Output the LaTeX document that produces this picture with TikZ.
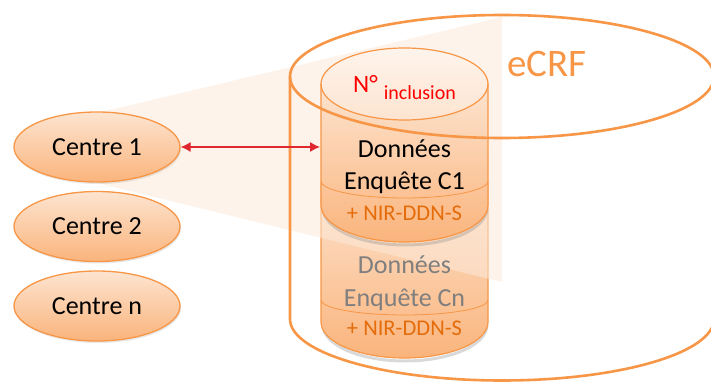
\documentclass[tikz,border=0pt]{standalone}
\usepackage{fontspec}
\setmainfont{Carlito}
\usetikzlibrary{shapes.geometric,arrows.meta,positioning,shadows}

\definecolor{ecrforange}{HTML}{F79646}
\definecolor{nirorange}{HTML}{E46C0A}
\definecolor{peachlight}{HTML}{FDE4D0}
\definecolor{peachdark}{HTML}{FAB47C}
\definecolor{beamcolor}{HTML}{FCE9D9}
\definecolor{linkred}{HTML}{E0262E}
\definecolor{fadedgray}{HTML}{7F7F7F}

\tikzset{
  centre/.style={ellipse, draw=ecrforange, line width=1.3pt, top color=peachlight, bottom color=peachdark,
    minimum width=166pt, minimum height=70pt, inner sep=0pt, font=\fontsize{26}{30}\selectfont,
    drop shadow={opacity=0.18, shadow xshift=1pt, shadow yshift=-2pt}},
  disktext/.style={anchor=base, inner sep=0pt, font=\fontsize{26}{30}\selectfont},
  nirtext/.style={anchor=base, inner sep=0pt, text=nirorange, font=\fontsize{22.5}{26}\selectfont},
  diskline/.style={draw=ecrforange, line width=1.2pt},
}

\begin{document}
\begin{tikzpicture}[x=1pt, y=1pt]
    \useasboundingbox (0,0) rectangle (711,383);
    \clip (0,0) rectangle (711,383);

    % Lower disk: survey data of centre n
    \draw[gray, opacity=0.3, line width=3pt] (323,58) arc[start angle=180, end angle=360, x radius=82, y radius=36];
    \shade[top color=peachlight, bottom color=peachdark] (321,200) -- (321,61)
        arc[start angle=180, end angle=360, x radius=83.5, y radius=36] -- (488,200) -- cycle;
    \draw[diskline] (321,200) -- (321,61) arc[start angle=180, end angle=360, x radius=83.5, y radius=36] -- (488,200);
    \draw[diskline, line width=0.8pt] (321,83) arc[start angle=180, end angle=360, x radius=83.5, y radius=15];

    % Light beam from Centre 1 to the eCRF
    \fill[beamcolor, opacity=0.55] (97,270) -- (502,366) -- (502,101) -- (97,200) -- cycle;

    % Upper disk: survey data of centre 1
    \draw[gray, opacity=0.3, line width=3pt] (323,175) arc[start angle=180, end angle=360, x radius=82, y radius=37];
    \shade[top color=peachlight, bottom color=peachdark] (321,299) -- (321,178)
        arc[start angle=180, end angle=360, x radius=83.5, y radius=37] -- (488,299) -- cycle;
    \shade[top color=white!60!peachlight, bottom color=peachlight] (404.5,299) ellipse[x radius=83.5, y radius=36];
    \draw[diskline] (321,299) -- (321,178) arc[start angle=180, end angle=360, x radius=83.5, y radius=37] -- (488,299);
    \draw[diskline] (404.5,299) ellipse[x radius=83.5, y radius=36];
    \draw[diskline, line width=0.8pt] (321,202) arc[start angle=180, end angle=360, x radius=83.5, y radius=17];

    % eCRF cylinder
    \draw[ecrforange, line width=2.6pt] (502,306.5) ellipse[x radius=212, y radius=61.5];
    \draw[ecrforange, line width=2.6pt] (290,306.5) -- (290,64)
        arc[start angle=180, end angle=360, x radius=212, y radius=61.5] -- (714,306.5);
    \node[anchor=base west, inner sep=0pt, text=ecrforange, font=\fontsize{39}{44}\selectfont] (ecrf) at (507,306) {eCRF};

    % Texts of the disks
    \node[anchor=base, inner sep=0pt, text=red] (numincl) at (404.5,290)
        {\fontsize{25}{30}\selectfont N°\hspace{6pt}\raisebox{-7pt}{\fontsize{20}{24}\selectfont inclusion}};
    \node[disktext] (d1top) at (404.5,225) {Données};
    \node[disktext] (d1bot) at (404.5,193) {Enquête C1};
    \node[nirtext] (d1nir) at (404.5,163) {+ NIR-DDN-S};
    \node[disktext, text=fadedgray] (dntop) at (404.5,110) {Données};
    \node[disktext, text=fadedgray] (dnbot) at (404.5,77) {Enquête Cn};
    \node[nirtext] (dnnir) at (404.5,48) {+ NIR-DDN-S};

    % Centres
    \node[centre] (c1) at (97,236) {Centre 1};
    \node[centre, below=8.2pt of c1] (c2) {Centre 2};
    \node[centre, below=8.2pt of c2] (cn) {Centre n};

    % Link between Centre 1 and its data
    \coordinate (diskwest) at (320,236);
    \draw[linkred, line width=1.2pt, {Latex[length=10pt, width=10pt]}-{Latex[length=10pt, width=10pt]}] (c1.east) -- (diskwest);
\end{tikzpicture}
\end{document}
